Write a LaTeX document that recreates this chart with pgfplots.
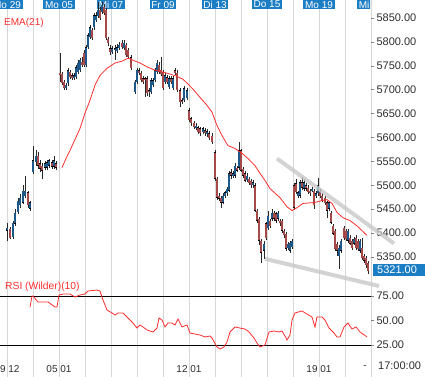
\documentclass[border=0pt]{standalone}
\usepackage{fontspec}
\setmainfont{Liberation Sans}
\usepackage{pgfplots}
\usepackage{pgfplotstable}
\pgfplotsset{compat=1.18}
\definecolor{upcol}{RGB}{28,88,138}
\definecolor{dncol}{RGB}{165,72,72}
\definecolor{gridc}{RGB}{214,214,214}
\definecolor{boxc}{RGB}{27,125,195}
\definecolor{emac}{RGB}{255,45,45}
\definecolor{trendc}{RGB}{200,200,200}
\definecolor{lab}{RGB}{45,45,45}
\definecolor{wick}{RGB}{40,40,40}

\pgfplotstableread{
x o h l c
7 5405 5422 5384 5411
13 5392 5426 5388 5422
15 5420 5451 5415 5443
18 5443 5474 5439 5468
20 5458 5481 5453 5474
23 5464 5500 5460 5489
25 5478 5520 5474 5489
30 5451 5468 5447 5464
33 5527 5583 5523 5552
36 5548 5573 5541 5562
45 5537 5550 5533 5546
47 5537 5552 5533 5548
49 5541 5556 5537 5552
54 5539 5562 5535 5552
66 5703 5714 5699 5710
68 5714 5745 5707 5741
74 5724 5735 5720 5730
76 5726 5752 5722 5747
78 5737 5762 5733 5756
80 5741 5766 5737 5762
86 5752 5794 5747 5789
88 5789 5819 5785 5814
90 5810 5835 5806 5831
94 5831 5861 5825 5856
96 5846 5863 5842 5856
98 5854 5884 5850 5867
102 5863 5884 5859 5878
112 5779 5791 5775 5787
115 5783 5794 5762 5787
117 5781 5796 5777 5789
119 5787 5800 5783 5794
124 5787 5804 5783 5798
135 5695 5720 5691 5716
137 5716 5745 5712 5741
151 5695 5724 5691 5720
153 5710 5724 5705 5720
155 5720 5745 5716 5741
157 5737 5762 5733 5756
165 5716 5735 5712 5730
169 5705 5728 5701 5724
173 5703 5728 5699 5724
184 5678 5707 5674 5703
187 5682 5703 5678 5699
196 5619 5630 5615 5625
203 5611 5623 5607 5619
207 5607 5617 5602 5613
223 5464 5483 5460 5478
225 5478 5489 5474 5485
227 5483 5497 5478 5493
229 5489 5529 5485 5525
233 5520 5531 5516 5525
235 5520 5546 5516 5541
239 5537 5590 5533 5573
247 5510 5525 5506 5520
253 5500 5510 5495 5506
264 5363 5384 5346 5378
268 5411 5447 5407 5436
272 5430 5451 5426 5443
278 5430 5447 5426 5443
288 5369 5382 5365 5378
290 5363 5384 5359 5380
292 5371 5388 5367 5384
298 5478 5489 5474 5485
300 5478 5510 5474 5506
304 5493 5514 5489 5506
312 5489 5497 5485 5493
316 5478 5487 5474 5483
318 5483 5516 5478 5500
329 5451 5468 5447 5464
339 5352 5374 5325 5369
341 5363 5388 5359 5384
348 5384 5409 5380 5405
354 5378 5392 5374 5388
360 5363 5388 5359 5384
}\uptab

\pgfplotstableread{
x o h l c
10 5409 5413 5388 5390
28 5485 5489 5453 5458
38 5562 5569 5535 5541
40 5546 5552 5527 5535
42 5541 5546 5514 5531
52 5548 5552 5535 5539
56 5546 5550 5533 5537
60 5735 5777 5716 5730
62 5733 5737 5710 5714
64 5716 5720 5699 5703
70 5737 5741 5722 5726
72 5730 5735 5720 5724
82 5758 5768 5747 5752
84 5777 5783 5747 5752
92 5825 5829 5804 5808
100 5867 5873 5846 5850
104 5873 5880 5856 5861
106 5867 5871 5804 5808
108 5806 5810 5791 5798
110 5787 5794 5772 5779
122 5798 5804 5785 5789
126 5794 5798 5768 5772
128 5783 5787 5764 5768
131 5768 5772 5741 5745
139 5741 5745 5730 5735
141 5735 5739 5716 5720
143 5724 5728 5712 5716
145 5724 5726 5684 5720
147 5724 5728 5688 5693
149 5699 5703 5686 5695
159 5752 5758 5733 5737
161 5741 5768 5728 5733
163 5737 5741 5699 5703
167 5726 5730 5712 5716
171 5724 5728 5712 5716
175 5741 5745 5730 5735
177 5735 5741 5695 5699
180 5699 5703 5663 5674
182 5678 5682 5670 5674
189 5657 5661 5632 5636
191 5640 5644 5625 5630
194 5630 5634 5617 5621
198 5621 5625 5607 5611
200 5619 5623 5604 5609
205 5615 5619 5604 5609
209 5609 5613 5594 5598
212 5604 5609 5586 5590
215 5569 5573 5510 5514
217 5514 5518 5470 5474
219 5478 5483 5468 5472
221 5474 5478 5453 5464
231 5527 5535 5514 5520
237 5537 5541 5527 5531
241 5573 5577 5527 5531
243 5535 5539 5516 5520
245 5525 5529 5506 5510
249 5514 5518 5500 5504
251 5510 5514 5495 5500
255 5500 5504 5443 5447
257 5447 5451 5422 5426
259 5430 5434 5374 5384
261 5384 5388 5338 5359
266 5420 5424 5386 5390
270 5426 5430 5411 5415
274 5443 5447 5426 5430
276 5441 5445 5422 5426
280 5426 5430 5415 5420
282 5426 5430 5401 5405
284 5405 5409 5390 5395
286 5399 5403 5363 5367
294 5500 5504 5449 5453
296 5504 5514 5481 5485
302 5506 5518 5491 5495
306 5500 5504 5489 5493
308 5495 5500 5481 5485
310 5489 5493 5478 5483
314 5489 5493 5451 5458
320 5489 5493 5474 5478
322 5478 5483 5464 5468
325 5474 5478 5458 5462
327 5464 5468 5432 5447
331 5443 5447 5418 5422
333 5415 5420 5395 5399
335 5405 5409 5363 5367
337 5378 5382 5352 5363
344 5411 5415 5386 5390
346 5405 5409 5384 5388
350 5390 5395 5374 5378
352 5384 5388 5365 5369
356 5390 5395 5365 5369
358 5384 5388 5363 5367
362 5369 5390 5344 5348
364 5352 5357 5338 5342
366 5348 5352 5327 5332
368 5338 5342 5315 5321
}\dntab

\pgfplotsset{
  wicks/.style={draw=none, mark=none, forget plot,
    error bars/.cd, y dir=both, y explicit, error mark=none,
    error bar style={draw=wick, line width=0.75bp}},
  bodies/.style 2 args={draw=none, mark=none, forget plot,
    error bars/.cd, y dir=both, y explicit, error mark=none,
    error bar style={draw=#1, line width=#2}},
}

\begin{document}
\begin{tikzpicture}
\useasboundingbox (0,0) rectangle (425bp,-377bp);
% vertical day grid through the whole chart
\foreach \gx in {7,33,...,371} \draw[gridc, line width=1bp] (\gx bp,0) -- (\gx bp,-377bp);
% day labels on top
\begin{scope}
\clip (0,0) rectangle (370bp,-30bp);
\foreach \gx/\t in {7/Mo 29,59/Mo 05,111/Mi 07,163/Fr 09,215/Di 13,267/Do 15,319/Mo 19,371/Mi 21}
  \node[fill=boxc, text=white, font=\fontsize{10bp}{11bp}\selectfont, inner xsep=1.8bp, inner ysep=0.8bp, minimum height=9.6bp] at (\gx bp,-4.6bp) {\t};
\end{scope}

\begin{axis}[at={(0,0)}, anchor=north west, scale only axis,
  width=371bp, height=276bp,
  xmin=0, xmax=371, ymin=5310, ymax=5888,
  axis line style={draw=none},
  xtick=\empty,
  ytick={5350,5400,...,5850},
  ytick pos=right, yticklabel pos=right,
  tick align=outside, major tick length=3bp,
  tick style={draw=gray, line width=0.6bp},
  yticklabel style={font=\fontsize{11bp}{12bp}\selectfont, text=lab, xshift=-1bp},
  /pgf/number format/fixed, /pgf/number format/fixed zerofill,
  /pgf/number format/precision=2, /pgf/number format/1000 sep={},
  /pgf/number format/assume math mode=true]
% wicks
\addplot[wicks] table[x=x, y expr={(\thisrow{h}+\thisrow{l})/2}, y error expr={(\thisrow{h}-\thisrow{l})/2}] \uptab;
\addplot[wicks] table[x=x, y expr={(\thisrow{h}+\thisrow{l})/2}, y error expr={(\thisrow{h}-\thisrow{l})/2}] \dntab;
% body outlines
\addplot[bodies={black}{2.4bp}] table[x=x, y expr={(\thisrow{o}+\thisrow{c})/2}, y error expr={max(abs(\thisrow{c}-\thisrow{o})/2,1.3)}] \uptab;
\addplot[bodies={black}{2.4bp}] table[x=x, y expr={(\thisrow{o}+\thisrow{c})/2}, y error expr={max(abs(\thisrow{c}-\thisrow{o})/2,1.3)}] \dntab;
% body fills
\addplot[bodies={upcol}{1.4bp}] table[x=x, y expr={(\thisrow{o}+\thisrow{c})/2}, y error expr={max(abs(\thisrow{c}-\thisrow{o})/2-0.6,0.6)}] \uptab;
\addplot[bodies={dncol}{1.4bp}] table[x=x, y expr={(\thisrow{o}+\thisrow{c})/2}, y error expr={max(abs(\thisrow{c}-\thisrow{o})/2-0.6,0.6)}] \dntab;
% EMA(21)
\addplot[emac, line width=0.8bp, mark=none] coordinates {
(62,5537) (66,5556) (70,5573) (75,5596) (80,5619) (85,5651) (90,5678) (95,5710)
(100,5730) (107,5745) (115,5756) (122,5760) (128,5766) (133,5762) (140,5756)
(148,5747) (155,5741) (163,5737) (170,5733) (177,5728) (183,5722) (188,5712)
(194,5699) (200,5684) (206,5670) (212,5653) (217,5625) (222,5604) (228,5583)
(235,5577) (242,5567) (248,5556) (255,5541) (260,5525) (265,5510) (270,5493)
(280,5474) (287,5455) (292,5447) (297,5453) (303,5462) (315,5464) (322,5468)
(327,5470) (332,5462) (337,5443) (343,5432) (350,5426) (357,5415) (362,5405)
(367,5395)};
\coordinate (tu1) at (axis cs:277,5556);
\coordinate (tu2) at (axis cs:394,5378);
\coordinate (tl1) at (axis cs:265,5346);
\coordinate (tl2) at (axis cs:379,5289);
\end{axis}

\begin{axis}[at={(0,-276bp)}, anchor=north west, scale only axis,
  width=371bp, height=84bp,
  xmin=0, xmax=371, ymin=9.7, ymax=95.4,
  axis line style={draw=none},
  xtick={7,59,189,319,365},
  xticklabels={29 12,05 01,12 01,19 01,-},
  x tick style={draw=none},
  xticklabel style={font=\fontsize{10bp}{11bp}\selectfont, text=lab, yshift=1bp},
  ytick={25,50,75},
  ytick pos=right, yticklabel pos=right,
  tick align=outside, major tick length=3bp,
  y tick style={draw=gray, line width=0.6bp},
  yticklabel style={font=\fontsize{11bp}{12bp}\selectfont, text=lab, xshift=-1bp},
  /pgf/number format/fixed, /pgf/number format/fixed zerofill,
  /pgf/number format/precision=2,
  /pgf/number format/assume math mode=true]
\addplot[black, line width=0.8bp, mark=none, forget plot] coordinates {(0,75) (371,75)};
\addplot[black, line width=0.8bp, mark=none, forget plot] coordinates {(0,25) (371,25)};
\addplot[emac, line width=0.8bp, mark=none] coordinates {
(30,63.8) (32,75) (33,75) (38,68.9) (43,68.9) (48,68.9) (55,63.8) (57,63.8)
(59,76) (63,77) (70,77) (75,74) (80,76) (85,77) (88,80.1) (97,81.1) (100,80.1)
(103,70.9) (107,60.7) (112,57.7) (115,55.6) (118,57.7) (123,57.7) (127,53.6)
(130,50.5) (133,47.4) (137,42.3) (140,45.4) (143,43.4) (147,40.3) (153,38.3)
(157,42.3) (159,52.6) (162,50.5) (165,43.4) (168,47.4) (172,47.4) (175,45.4)
(178,51.5) (182,43.4) (187,45.4) (190,37.2) (195,36.2) (200,35.2) (205,33.2)
(210,34.2) (212,32.1) (217,23.0) (220,20.9) (224,23.0) (227,28.1) (230,38.3)
(235,43.4) (240,42.3) (245,41.3) (249,38.3) (254,32.1) (257,27.0) (260,23.0)
(265,25.0) (269,38.3) (274,39.3) (279,38.3) (282,39.3) (285,34.2) (287,30.1)
(290,35.2) (292,50.5) (295,57.7) (302,59.7) (307,56.6) (312,53.6) (315,43.4)
(317,53.6) (322,53.6) (325,50.5) (329,42.3) (334,37.2) (337,33.2) (340,33.2)
(344,43.4) (348,47.4) (352,41.3) (356,43.4) (360,38.3) (367,33.2)};
\end{axis}

% trend lines
\draw[trendc, line width=4bp, opacity=0.8] (tu1) -- (tu2);
\draw[trendc, line width=4bp, opacity=0.8] (tl1) -- (tl2);
% indicator names
\node[anchor=west, text=emac, inner sep=0pt, font=\fontsize{10bp}{11bp}\selectfont] at (4bp,-22.5bp) {EMA(21)};
\node[anchor=west, text=emac, inner sep=0pt, font=\fontsize{10.3bp}{11bp}\selectfont] at (5bp,-287bp) {RSI (Wilder)(10)};
% last price box
\fill[boxc] (373bp,-264bp) rectangle (425bp,-276bp);
\node[anchor=west, text=white, inner sep=0pt, font=\fontsize{11bp}{12bp}\selectfont] at (377bp,-270bp) {5321.00};
% time label
\node[anchor=west, text=lab, inner sep=0pt, font=\fontsize{11bp}{12bp}\selectfont] at (378bp,-366bp) {17:00:00};
\end{tikzpicture}
\end{document}
